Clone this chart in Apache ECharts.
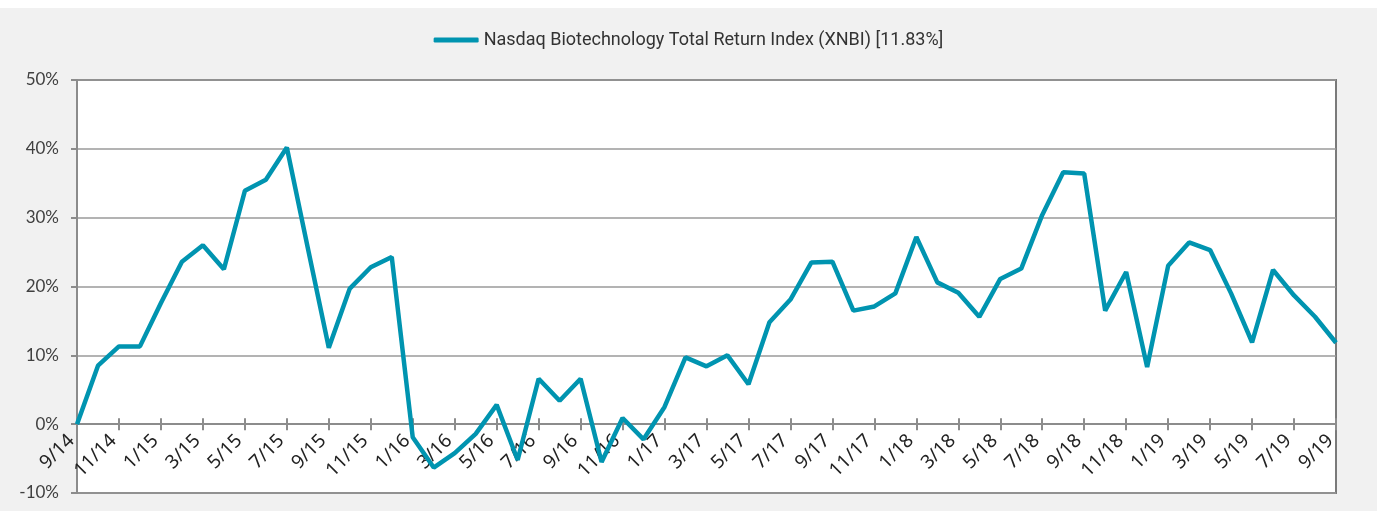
<!DOCTYPE html>
<html>
<head>
<meta charset="utf-8">
<script src="https://cdn.jsdelivr.net/npm/echarts@6/dist/echarts.min.js"></script>
<style>
  html, body { margin: 0; padding: 0; background: #ffffff; }
  #chart { position: absolute; left: 0; top: 8px; width: 1377px; height: 503px; }
</style>
</head>
<body>
<div id="chart"></div>
<script>
// Month-end observation dates
const months = [
  '9/14','10/14','11/14','12/14',
  '1/15','2/15','3/15','4/15','5/15','6/15','7/15','8/15','9/15','10/15','11/15','12/15',
  '1/16','2/16','3/16','4/16','5/16','6/16','7/16','8/16','9/16','10/16','11/16','12/16',
  '1/17','2/17','3/17','4/17','5/17','6/17','7/17','8/17','9/17','10/17','11/17','12/17',
  '1/18','2/18','3/18','4/18','5/18','6/18','7/18','8/18','9/18','10/18','11/18','12/18',
  '1/19','2/19','3/19','4/19','5/19','6/19','7/19','8/19','9/19'
];

// Rolling total return, in percent
const xnbiReturn = [
  0, 8.5, 11.3, 11.3,
  17.6, 23.6, 26.0, 22.5, 33.9, 35.5, 40.2, 25.6, 11.1, 19.7, 22.8, 24.3,
  -1.9, -6.3, -4.2, -1.4, 2.8, -5.2, 6.6, 3.4, 6.6, -5.5, 0.9, -2.2,
  2.5, 9.7, 8.4, 10.0, 5.8, 14.8, 18.1, 23.5, 23.6, 16.5, 17.1, 19.0,
  27.2, 20.6, 19.1, 15.6, 21.1, 22.6, 30.4, 36.6, 36.4, 16.5, 22.1, 8.3,
  23.0, 26.4, 25.3, 19.0, 11.9, 22.4, 18.7, 15.6, 11.83
];

const seriesName = 'Nasdaq Biotechnology Total Return Index (XNBI) [11.83%]';
const yTicks = { min: -10, max: 50, step: 10 };

const gridBox = { left: 77, right: 41, top: 72, bottom: 18 };
const chartHeight = 503;
const plotHeight = chartHeight - gridBox.top - gridBox.bottom;
// distance from the plot bottom up to the 0% line
const zeroLift = plotHeight * (0 - yTicks.min) / (yTicks.max - yTicks.min);

const chart = echarts.init(document.getElementById('chart'), null, { renderer: 'canvas' });

const axisGray = '#8c8c8c';
const tickStyle = { color: axisGray, width: 2 };

chart.setOption({
  backgroundColor: '#f1f1f1',
  animation: false,
  legend: {
    top: 18,
    left: 'center',
    icon: 'roundRect',
    itemWidth: 45,
    itemHeight: 5,
    textStyle: {
      fontFamily: 'Roboto',
      fontSize: 18,
      color: '#333333'
    },
    data: [seriesName]
  },
  grid: [
    {
      // plot area
      left: gridBox.left,
      right: gridBox.right,
      top: gridBox.top,
      bottom: gridBox.bottom,
      containLabel: false,
      outerBoundsMode: 'none',
      show: true,
      backgroundColor: '#ffffff',
      borderColor: '#7a7a7a',
      borderWidth: 2
    },
    {
      // upper band whose bottom edge is the 0% line; carries the date axis
      left: gridBox.left,
      right: gridBox.right,
      top: gridBox.top,
      bottom: gridBox.bottom + zeroLift,
      containLabel: false,
      outerBoundsMode: 'none',
      show: false
    }
  ],
  xAxis: [
    {
      gridIndex: 0,
      type: 'category',
      data: months,
      boundaryGap: false,
      axisLine: { show: false },
      axisTick: { show: false },
      axisLabel: { show: false },
      splitLine: { show: false }
    },
    {
      gridIndex: 1,
      type: 'category',
      data: months,
      boundaryGap: false,
      position: 'bottom',
      axisLine: { onZero: false, lineStyle: { color: axisGray, width: 2 } },
      axisTick: { show: true, interval: 1, length: 6, lineStyle: tickStyle },
      axisLabel: {
        interval: 1,
        rotate: 45,
        margin: 8,
        // equal top/right padding pair nudges the slanted text straight down
        padding: [16, 8, 0, 0],
        fontFamily: 'Noto Sans',
        fontSize: 19,
        color: '#222222'
      },
      splitLine: { show: false }
    },
    {
      // upper half of each date tick
      gridIndex: 1,
      type: 'category',
      data: months,
      boundaryGap: false,
      position: 'bottom',
      axisLine: { onZero: false, show: false },
      axisTick: { show: true, inside: true, interval: 1, length: 6, lineStyle: tickStyle },
      axisLabel: { show: false },
      splitLine: { show: false }
    }
  ],
  yAxis: [
    {
      gridIndex: 0,
      type: 'value',
      min: yTicks.min,
      max: yTicks.max,
      interval: yTicks.step,
      axisLine: { show: true, lineStyle: { color: axisGray, width: 2 } },
      axisTick: { show: true, length: 6, lineStyle: tickStyle },
      axisLabel: {
        formatter: '{value}%',
        margin: 18,
        fontFamily: 'Lato',
        fontSize: 17,
        color: '#404040'
      },
      splitLine: { show: true, lineStyle: { color: '#9a9a9a', width: 1.5 } }
    },
    {
      gridIndex: 1,
      type: 'value',
      min: 0,
      max: 1,
      show: false
    }
  ],
  series: [
    {
      name: seriesName,
      type: 'line',
      data: xnbiReturn,
      xAxisIndex: 0,
      yAxisIndex: 0,
      symbol: 'none',
      lineStyle: { color: '#0094b0', width: 4.5 },
      itemStyle: { color: '#0094b0' },
      z: 5
    }
  ]
});
</script>
</body>
</html>
